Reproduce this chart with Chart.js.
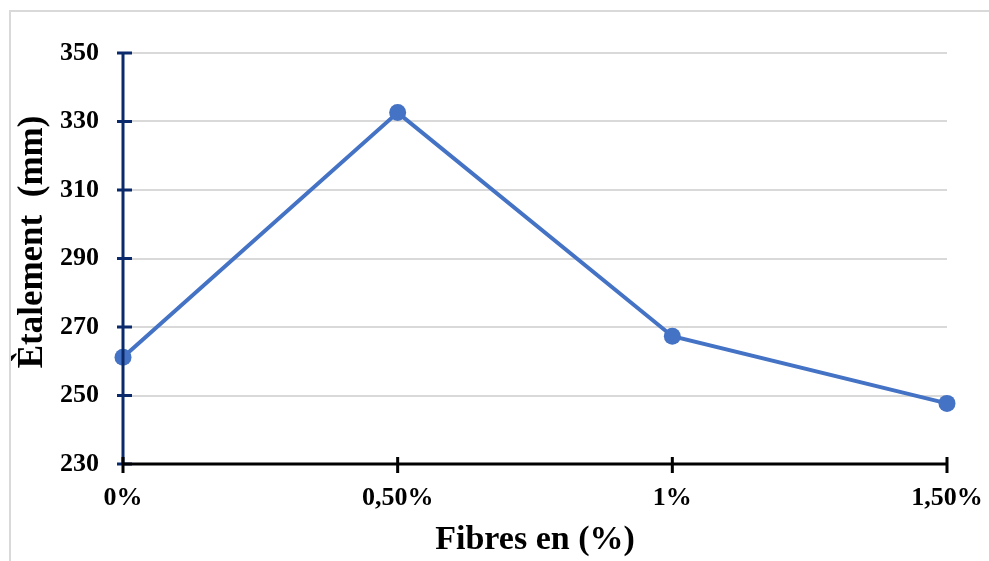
<!DOCTYPE html>
<html>
<head>
<meta charset="utf-8">
<script src="https://cdn.jsdelivr.net/npm/chart.js@4/dist/chart.umd.min.js"></script>
<style>
  html, body { margin: 0; padding: 0; background: #fff; }
  #wrap { position: relative; width: 989px; height: 561px; }
</style>
</head>
<body>
<div id="wrap"><canvas id="chart" width="989" height="561"></canvas></div>
<script>
// ── Data ──
const categories = ["0%", "0,50%", "1%", "1,50%"];
const etalement = [261.2, 332.6, 267.3, 247.7];
const yTicks = [230, 250, 270, 290, 310, 330, 350];
const yTitle = "Ètalement  (mm)";

const FONT = "'Liberation Serif', 'Times New Roman', serif";
const BLUE = "#4472C4";
const NAVY = "#0B2A6B";

// ── Frame, y title, crossing axis lines / ticks ──
const axesPlugin = {
  id: "axesPlugin",
  beforeDraw(chart) {
    const ctx = chart.ctx;
    ctx.save();
    ctx.strokeStyle = "#d9d9d9";
    ctx.lineWidth = 2;
    ctx.strokeRect(10, 11, 1000, 600);

    // y title, rotated
    ctx.translate(33, 242);
    ctx.rotate(-Math.PI / 2);
    ctx.fillStyle = "#000";
    ctx.font = "bold 35px " + FONT;
    ctx.textAlign = "center";
    ctx.textBaseline = "middle";
    ctx.fillText(yTitle, 0, 0);
    ctx.restore();
  },
  afterDatasetsDraw(chart) {
    const ctx = chart.ctx;
    const x = chart.scales.x;
    const y = chart.scales.y;
    const area = chart.chartArea;
    ctx.save();
    ctx.lineCap = "butt";

    // y axis (navy)
    ctx.strokeStyle = NAVY;
    ctx.lineWidth = 3;
    ctx.beginPath();
    ctx.moveTo(area.left, area.top);
    ctx.lineTo(area.left, area.bottom);
    yTicks.forEach(v => {
      const py = y.getPixelForValue(v);
      ctx.moveTo(area.left - 6, py);
      ctx.lineTo(area.left + 9, py);
    });
    ctx.stroke();

    // x axis (black)
    ctx.strokeStyle = "#000";
    ctx.beginPath();
    ctx.moveTo(area.left, area.bottom);
    ctx.lineTo(area.right, area.bottom);
    categories.forEach((c, i) => {
      const px = x.getPixelForValue(i);
      ctx.moveTo(px, area.bottom - 7);
      ctx.lineTo(px, area.bottom + 9);
    });
    ctx.stroke();
    ctx.restore();
  }
};

new Chart(document.getElementById("chart").getContext("2d"), {
  type: "line",
  data: {
    labels: categories,
    datasets: [{
      data: etalement,
      borderColor: BLUE,
      backgroundColor: BLUE,
      borderWidth: 4,
      pointRadius: 8.5,
      pointHoverRadius: 8.5,
      pointBorderWidth: 0,
      tension: 0,
      fill: false,
      clip: false
    }]
  },
  options: {
    responsive: false,
    animation: false,
    layout: { padding: { top: 53, right: 42, left: 0, bottom: 0 } },
    plugins: {
      legend: { display: false },
      tooltip: { enabled: false }
    },
    scales: {
      x: {
        type: "category",
        offset: false,
        grid: { display: false, drawTicks: false },
        border: { display: false },
        ticks: {
          padding: 19,
          color: "#000",
          font: { family: FONT, size: 26, weight: "bold" },
          maxRotation: 0
        },
        title: {
          display: true,
          text: "Fibres en (%)",
          color: "#000",
          font: { family: FONT, size: 34, weight: "bold" },
          padding: { top: 0, bottom: 0 }
        },
        afterFit(scale) {
          scale.height = 97;
          scale.paddingLeft = 0;
          scale.paddingRight = 0;
        }
      },
      y: {
        min: 230,
        max: 350,
        afterBuildTicks(scale) {
          scale.ticks = yTicks.map(v => ({ value: v }));
        },
        grid: { color: "#d9d9d9", lineWidth: 2, drawTicks: false },
        border: { display: false },
        ticks: {
          padding: 24,
          color: "#000",
          font: { family: FONT, size: 26, weight: "bold" }
        },
        afterFit(scale) {
          scale.width = 123;
          scale.paddingTop = 0;
          scale.paddingBottom = 0;
        }
      }
    }
  },
  plugins: [axesPlugin]
});
</script>
</body>
</html>
